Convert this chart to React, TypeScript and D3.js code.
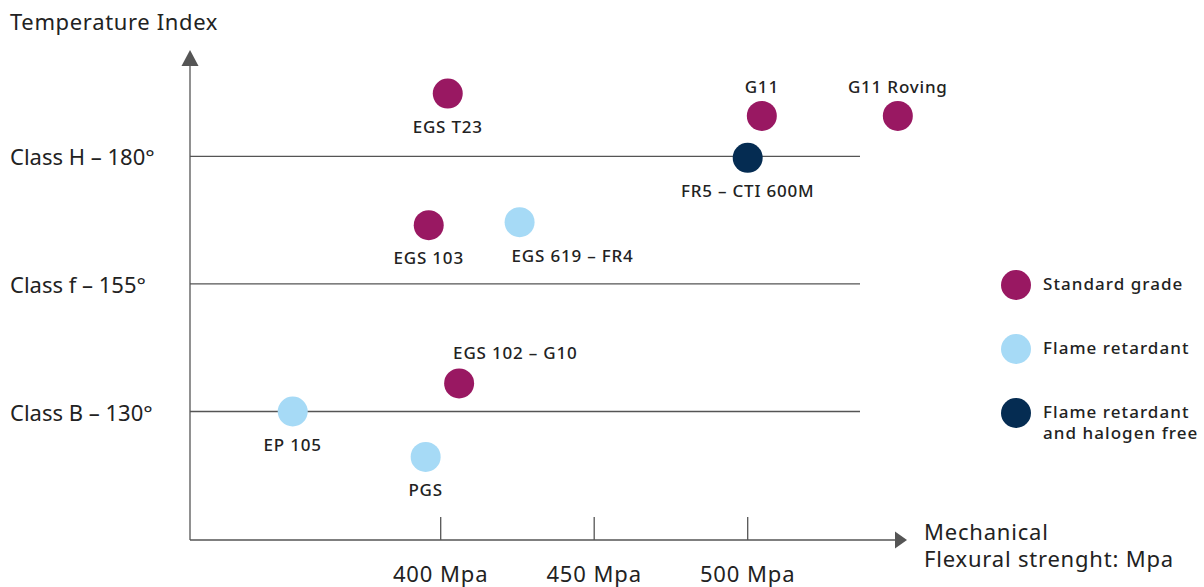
import React from "react";
import * as d3 from "d3";

const categories = ["Standard grade", "Flame retardant", "Flame retardant and halogen free"];
const categoryColors = ["#991862", "#a6daf6", "#052c52"];

const pointNames = ["EGS T23", "G11", "G11 Roving", "FR5 – CTI 600M", "EGS 103", "EGS 619 – FR4", "EGS 102 – G10", "EP 105", "PGS"];
const pointStrength = [402.3, 504.6, 548.9, 500, 396.1, 425.7, 406, 351.8, 395.1];
const pointTemp = [192.3, 187.9, 187.9, 179.7, 166.5, 167.1, 135.5, 130, 121.1];
const pointCategory = [0, 0, 0, 2, 0, 1, 0, 1, 1];
const labelPlacement = ["below", "above", "above", "below", "below", "belowStart", "aboveStart", "below", "below"];

const classTemps = [180, 155, 130];
const classLabels = ["Class H – 180°", "Class f – 155°", "Class B – 130°"];
const strengthTicks = [400, 450, 500];
const strengthTickLabels = ["400 Mpa", "450 Mpa", "500 Mpa"];

const FONT = "'Noto Sans', Roboto, sans-serif";
const TEXT = "#222";
const AXIS = "#555";

export default function App() {
  const W = 1204, H = 587;
  const x = d3.scaleLinear().domain([400, 500]).range([440.7, 747.7]);
  const y = d3.scaleLinear().domain([130, 180]).range([411.5, 156.3]);
  const x0 = 190, yBase = 540;
  const gridEnd = 860;

  const legendY = [285, 349, 413];

  return (
    <svg width={W} height={H} style={{ position: "absolute", left: 0, top: 0, fontFamily: FONT }}>
      <rect width={W} height={H} fill="#fff" />
      {/* y axis */}
      <line x1={x0} x2={x0} y1={yBase} y2={62} stroke={AXIS} strokeWidth={1.3} />
      <path d={`M${x0 - 8.5},66 L${x0 + 8.5},66 L${x0},50 Z`} fill={AXIS} />
      {/* x axis */}
      <line x1={x0} x2={898} y1={yBase} y2={yBase} stroke={AXIS} strokeWidth={1.3} />
      <path d={`M895,531.5 L895,548.5 L907,${yBase} Z`} fill={AXIS} />
      {/* class grid lines */}
      {classTemps.map((t, i) => (
        <g key={t}>
          <line x1={x0} x2={gridEnd} y1={y(t)} y2={y(t)} stroke={AXIS} strokeWidth={1.3} />
          <text x={10} y={y(t) + 9} fontSize={22} fill={TEXT}>{classLabels[i]}</text>
        </g>
      ))}
      {/* x ticks */}
      {strengthTicks.map((t, i) => (
        <g key={t}>
          <line x1={x(t)} x2={x(t)} y1={517} y2={yBase} stroke={AXIS} strokeWidth={1.3} />
          <text x={x(t)} y={582} fontSize={22} fill={TEXT} textAnchor="middle" letterSpacing={0.9}>{strengthTickLabels[i]}</text>
        </g>
      ))}
      <text x={10} y={30} fontSize={22} fill={TEXT} letterSpacing={0.65}>Temperature Index</text>
      <text x={924} y={540} fontSize={22} fill={TEXT} letterSpacing={0.8}>Mechanical</text>
      <text x={924} y={567} fontSize={22} fill={TEXT} letterSpacing={0.8}>Flexural strenght: Mpa</text>
      {/* points */}
      {pointNames.map((name, i) => {
        const cx = x(pointStrength[i]);
        const cy = y(pointTemp[i]);
        const p = labelPlacement[i];
        let lx = cx, ly = cy + 39, anchor = "middle";
        if (p === "above") { ly = cy - 23; }
        if (p === "belowStart") { lx = cx - 8; ly = cy + 40; anchor = "start"; }
        if (p === "aboveStart") { lx = cx - 6; ly = cy - 24; anchor = "start"; }
        return (
          <g key={name}>
            <circle cx={cx} cy={cy} r={15} fill={categoryColors[pointCategory[i]]} />
            <text x={lx} y={ly} fontSize={17} fill={TEXT} textAnchor={anchor} fontWeight={500} letterSpacing={0.8}>{name}</text>
          </g>
        );
      })}
      {/* legend */}
      {categories.map((c, i) => {
        const words = i === 2 ? ["Flame retardant", "and halogen free"] : [c];
        return (
          <g key={c}>
            <circle cx={1016} cy={legendY[i]} r={15} fill={categoryColors[i]} />
            {words.map((w, j) => (
              <text key={w} x={1043} y={legendY[i] + 5 + j * 21} fontSize={17} fill={TEXT} fontWeight={500} letterSpacing={1.05}>{w}</text>
            ))}
          </g>
        );
      })}
    </svg>
  );
}
